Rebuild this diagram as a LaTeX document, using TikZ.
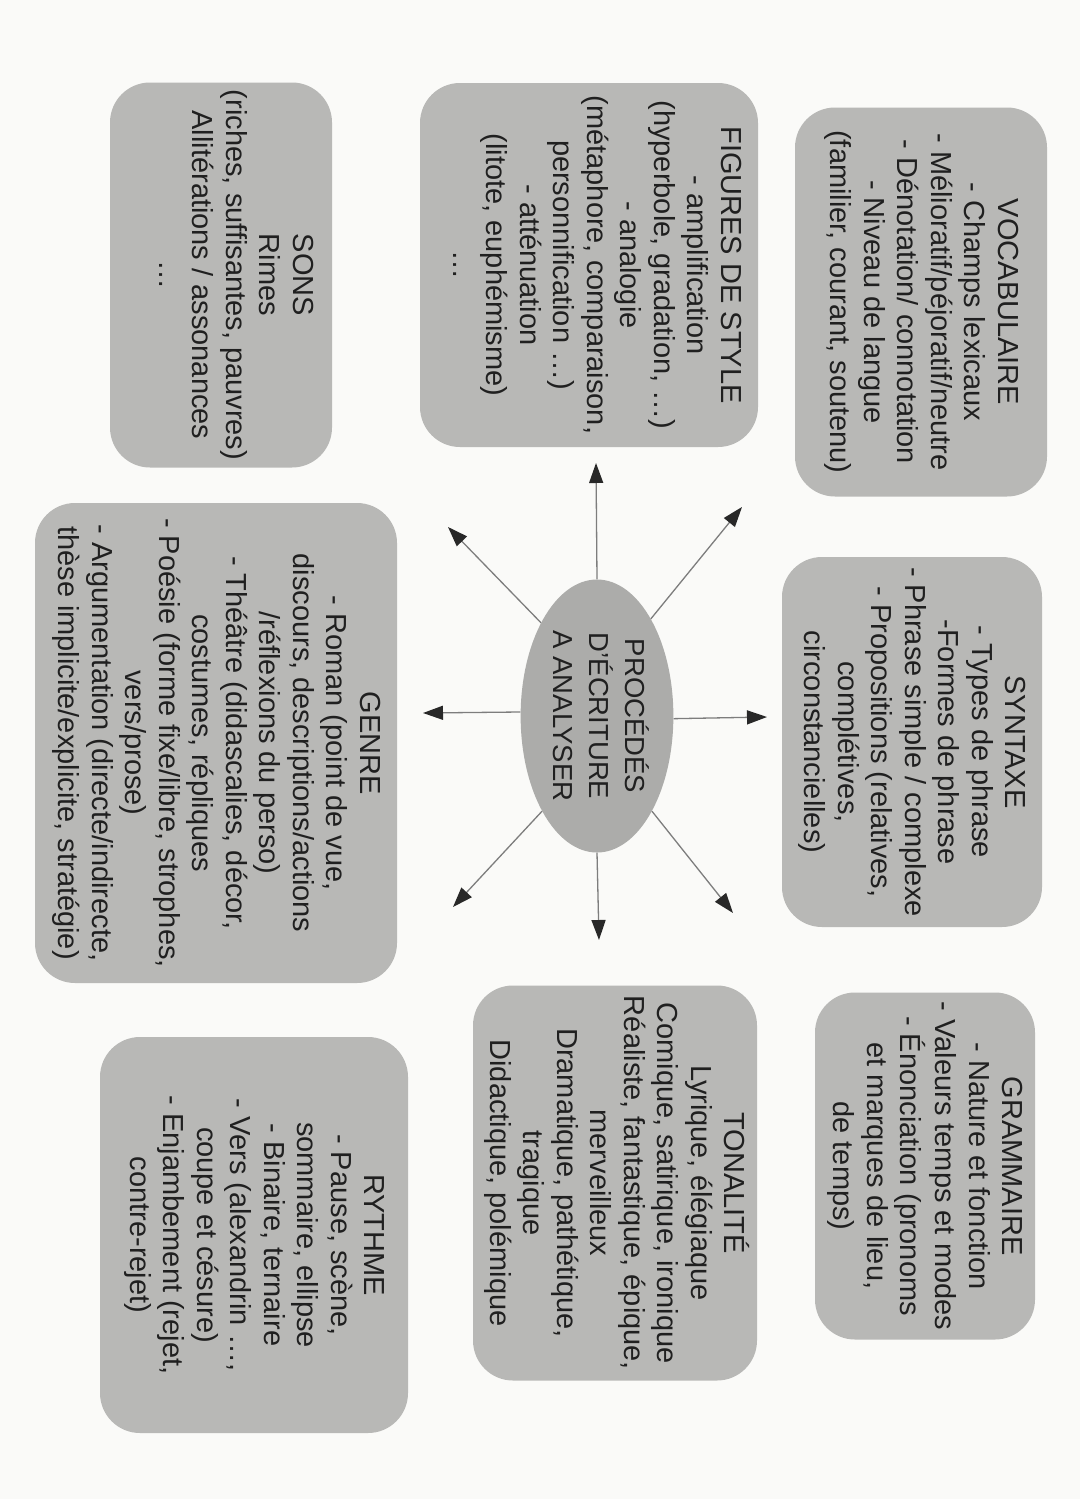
\documentclass[tikz,border=0pt]{standalone}
\usepackage{graphicx}
\usepackage{fontspec}
\setmainfont{Liberation Sans}
\usetikzlibrary{arrows.meta,shapes.geometric}
\definecolor{boxgray}{RGB}{184,184,182}
\definecolor{ellgray}{RGB}{172,172,170}
\definecolor{txt}{RGB}{32,32,32}
\definecolor{arrline}{RGB}{125,125,125}
\definecolor{arrhead}{RGB}{40,40,40}
\definecolor{bg}{RGB}{250,250,248}
\newcommand{\vtext}[1]{\rotatebox{-90}{\begin{tabular}{@{}c@{}}#1\end{tabular}}}
\begin{document}
\begin{tikzpicture}[x=1pt,y=-1pt,
  card/.style={draw=none, fill=boxgray, rounded corners=40pt, inner sep=0pt,
    text=txt, font=\fontsize{29}{33.5}\selectfont},
  hub/.style={ellipse, draw=none, fill=ellgray, inner sep=0pt, text=txt,
    font=\fontsize{27.5}{36}\selectfont},
  ray/.style={draw=arrline, line width=1.3pt,
    -{Triangle[length=20pt,width=14pt,color=arrhead]}}
]
\fill[bg] (0,0) rectangle (1080,1499);
\useasboundingbox (0,0) rectangle (1080,1499);

% central ellipse
\node[hub, minimum width=149pt, minimum height=273pt] (proc) at (597,716)
  {\vtext{PROCÉDÉS\\D'ÉCRITURE\\A ANALYSER}};

% boxes
\node[card, minimum width=252pt, minimum height=389pt] (voc) at (921,302)
  {\vtext{VOCABULAIRE\\- Champs lexicaux\\- Mélioratif/péjoratif/neutre\\- Dénotation/ connotation\\- Niveau de langue\\(familier, courant, soutenu)}};

\node[card, minimum width=260pt, minimum height=370pt] (syn) at (912,742)
  {\vtext{SYNTAXE\\- Types de phrase\\-Formes de phrase\\- Phrase simple / complexe\\- Propositions (relatives,\\complétives,\\circonstancielles)}};

\node[card, minimum width=220pt, minimum height=347pt] (gram) at (925,1166)
  {\vtext{GRAMMAIRE\\- Nature et fonction\\- Valeurs temps et modes\\- Énonciation (pronoms\\et marques de lieu,\\de temps)}};

\node[card, minimum width=338pt, minimum height=364pt] (fig) at (589,265)
  {\hspace*{10pt}\vtext{FIGURES DE STYLE\\- amplification\\(hyperbole, gradation, \ldots)\\- analogie\\(métaphore, comparaison,\\personnification \ldots)\\- atténuation\\(litote, euphémisme)\\\ldots}};

\node[card, minimum width=284pt, minimum height=395pt] (ton) at (615,1183)
  {\vtext{TONALITÉ\\Lyrique, élégiaque\\Comique, satirique, ironique\\Réaliste, fantastique, épique,\\merveilleux\\Dramatique, pathétique,\\tragique\\Didactique, polémique}};

\node[card, minimum width=222pt, minimum height=385pt] (sons) at (221,275)
  {\hspace*{24pt}\vtext{SONS\\Rimes\\(riches, suffisantes, pauvres)\\Allitérations / assonances\\\ldots}};

\node[card, minimum width=362pt, minimum height=480pt] (genre) at (216,743)
  {\vtext{GENRE\\- Roman (point de vue,\\discours, descriptions/actions\\/réflexions du perso)\\- Théâtre (didascalies, décor,\\costumes, répliques\\- Poésie (forme fixe/libre, strophes,\\vers/prose)\\- Argumentation (directe/indirecte,\\thèse implicite/explicite, stratégie)}};

\node[card, minimum width=308pt, minimum height=396pt] (ryt) at (254,1235)
  {\vtext{RYTHME\\- Pause, scène,\\sommaire, ellipse\\- Binaire, ternaire\\- Vers (alexandrin \ldots,\\coupe et césure)\\- Enjambement (rejet,\\contre-rejet)}};

% arrow tips
\coordinate (tFig)   at (596,463);
\coordinate (tVoc)   at (742,507);
\coordinate (tSons)  at (448,527);
\coordinate (tGenre) at (423,713);
\coordinate (tSyn)   at (767,717);
\coordinate (tRyt)   at (453,907);
\coordinate (tGram)  at (733,913);
\coordinate (tTon)   at (599,940);

\draw[ray] (proc.90)   -- (tFig);
\draw[ray] (proc.61)   -- (tVoc);
\draw[ray] (proc.121)  -- (tSons);
\draw[ray] (proc.177)  -- (tGenre);
\draw[ray] (proc.-2)   -- (tSyn);
\draw[ray] (proc.-120) -- (tRyt);
\draw[ray] (proc.-60)  -- (tGram);
\draw[ray] (proc.-90)  -- (tTon);
\end{tikzpicture}
\end{document}
